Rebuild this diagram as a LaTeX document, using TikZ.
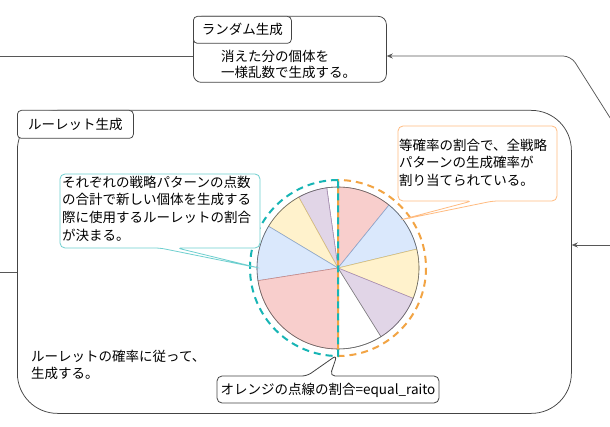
\documentclass[tikz,border=0pt]{standalone}
\usepackage{fontspec}
\setmainfont{Noto Sans CJK JP}
\usetikzlibrary{arrows.meta}
\definecolor{pinkf}{HTML}{F8CECC}\definecolor{pinkd}{HTML}{C98A87}
\definecolor{bluef}{HTML}{DAE8FC}\definecolor{blued}{HTML}{8AA6CF}
\definecolor{yelf}{HTML}{FFF2CC}\definecolor{yeld}{HTML}{D8C07A}
\definecolor{purf}{HTML}{E1D5E7}\definecolor{purd}{HTML}{A88DB5}
\definecolor{tealdash}{HTML}{17B5B5}
\definecolor{tealcall}{HTML}{6ECFCF}
\definecolor{orgdash}{HTML}{F2A444}
\definecolor{orgcall}{HTML}{FFBB80}
\definecolor{edge}{HTML}{444444}
\begin{document}
\begin{tikzpicture}[x=1pt,y=1pt,
  frame/.style={draw=edge, line width=0.75pt, fill=white, inner sep=0pt},
  tabbox/.style={draw=edge, line width=0.75pt, fill=white, rounded corners=4pt, inner sep=0pt,
     font=\fontsize{13.5}{16}\selectfont, anchor=north west},
  txt/.style={inner sep=0pt, align=left, anchor=west},
  conn/.style={draw=edge!90, line width=0.75pt},
  arrowc/.style={conn, -{Stealth[length=6pt,width=5pt]}},
  slice/.style={line width=0.6pt},
  dashc/.style={line width=2pt, dash pattern=on 7pt off 5pt},
  callout/.style={line width=0.8pt, fill=white, rounded corners=5pt}]
\useasboundingbox (0,0) rectangle (610,-427);

% top box
\node[frame, rounded corners=8pt, minimum width=193, minimum height=66, anchor=north west] (rnd) at (193,-16) {};
\node[tabbox, minimum width=98, minimum height=27] (rndtab) at (193,-16) {ランダム生成};
\node[txt, font=\fontsize{13.5}{16}\selectfont] (rndtxt) at (221,-64.5) {消えた分の個体を\\一様乱数で生成する。};

% roulette container
\node[frame, rounded corners=40pt, minimum width=554, minimum height=303, anchor=north west] (roul) at (17,-110) {};
\node[tabbox, minimum width=116, minimum height=28] (roultab) at (17,-110) {ルーレット生成};
\node[txt, font=\fontsize{13.5}{16.5}\selectfont] (roultxt) at (31,-365) {ルーレットの確率に従って、\\生成する。};

% connectors
\coordinate (lineA) at (0,-56);
\draw[conn] (rnd.west |- lineA) -- (lineA);
\coordinate (srcA) at (614,-124);
\draw[arrowc, rounded corners=8pt] (srcA) -- (571,-56) -- (rnd.east |- lineA);
\coordinate (srcB) at (612,-245);
\draw[arrowc] (srcB) -- (srcB -| roul.east);
\coordinate (lineB) at (0,-272);
\draw[conn] (roul.west |- lineB) -- (lineB);

% pie
\coordinate (c) at (338,-268);
\filldraw[slice, fill=pinkf, draw=pinkd] (c) -- ++(90:81) arc[start angle=90, end angle=51, radius=81] -- cycle;
\filldraw[slice, fill=bluef, draw=blued] (c) -- ++(51:81) arc[start angle=51, end angle=13.5, radius=81] -- cycle;
\filldraw[slice, fill=yelf, draw=yeld] (c) -- ++(13.5:81) arc[start angle=13.5, end angle=-22, radius=81] -- cycle;
\filldraw[slice, fill=purf, draw=purd] (c) -- ++(-22:81) arc[start angle=-22, end angle=-58, radius=81] -- cycle;
\filldraw[slice, fill=white, draw=gray] (c) -- ++(-58:81) arc[start angle=-58, end angle=-90, radius=81] -- cycle;
\filldraw[slice, fill=white, draw=gray] (c) -- ++(90:81) arc[start angle=90, end angle=98, radius=81] -- cycle;
\filldraw[slice, fill=purf, draw=purd] (c) -- ++(98:81) arc[start angle=98, end angle=119, radius=81] -- cycle;
\filldraw[slice, fill=yelf, draw=yeld] (c) -- ++(119:81) arc[start angle=119, end angle=149, radius=81] -- cycle;
\filldraw[slice, fill=bluef, draw=blued] (c) -- ++(149:81) arc[start angle=149, end angle=189, radius=81] -- cycle;
\filldraw[slice, fill=pinkf, draw=pinkd] (c) -- ++(189:81) arc[start angle=189, end angle=270, radius=81] -- cycle;
\draw[line width=0.6pt, draw=edge!80] (c) circle[radius=81];

% dashed halves
\draw[dashc, draw=orgdash, dash phase=6pt] (c) ++(90:88) arc[start angle=90, end angle=-90, radius=88] -- cycle;
\draw[dashc, draw=tealdash] (c) ++(90:88) arc[start angle=90, end angle=270, radius=88] -- cycle;

% callouts
\draw[callout, draw=tealcall] (177,-248) -- (260,-248) -- (260,-174) -- (60,-174) -- (60,-248) -- (160,-248) -- (259,-268) -- cycle;
\node[txt, font=\fontsize{13.5}{17.7}\selectfont] (tealtxt) at (62,-208.5) {それぞれの戦略パターンの点数\\の合計で新しい個体を生成する\\際に使用するルーレットの割合\\が決まる。};

\draw[callout, draw=orgcall] (493,-201) -- (557,-201) -- (557,-126) -- (398,-126) -- (398,-201) -- (472,-201) -- (400,-220) -- cycle;
\node[txt, font=\fontsize{13.5}{17.5}\selectfont] (orgtxt) at (399,-162.5) {等確率の割合で、全戦略\\パターンの生成確率が\\割り当てられている。};

\draw[callout, draw=edge] (330,-376) -- (439,-376) -- (439,-403) -- (217,-403) -- (217,-376) -- (307,-376) -- (337,-355) -- cycle;
\node[inner sep=0pt, font=\fontsize{13.5}{16}\selectfont] (eqtxt) at (328,-390) {オレンジの点線の割合=equal\_raito};
\end{tikzpicture}
\end{document}
